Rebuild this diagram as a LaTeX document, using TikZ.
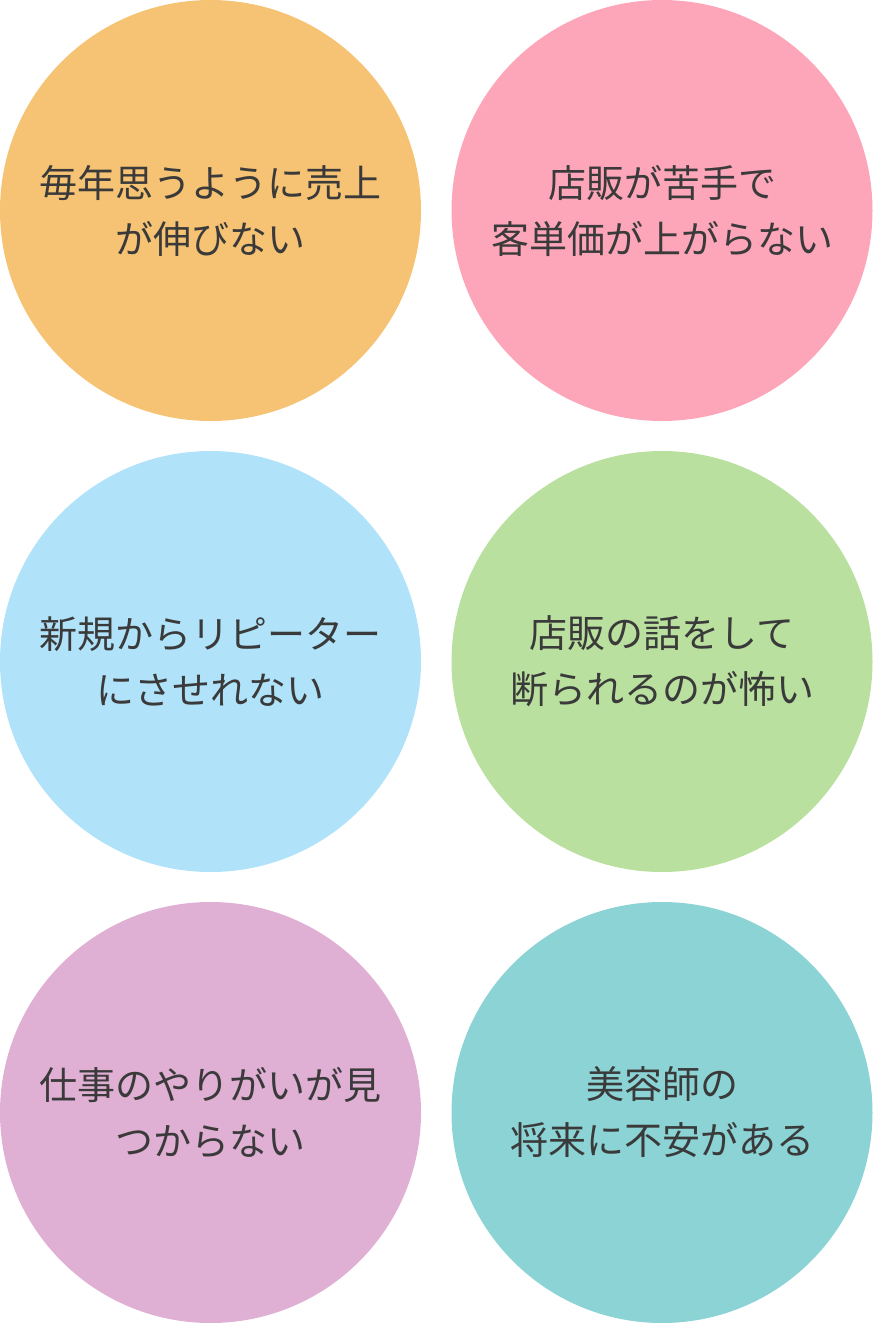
\documentclass[tikz,border=0pt]{standalone}
\usepackage{fontspec}
\newfontfamily\cjk{Noto Sans CJK JP}[FontFace={m}{n}{* Medium}]
\definecolor{cO}{HTML}{F5C373}
\definecolor{cP}{HTML}{FDA6BA}
\definecolor{cB}{HTML}{B0E2F9}
\definecolor{cG}{HTML}{B9E09E}
\definecolor{cV}{HTML}{E0AFD4}
\definecolor{cT}{HTML}{8CD3D5}
\definecolor{txt}{HTML}{3A3A3A}
\begin{document}
\begin{tikzpicture}[x=1pt,y=-1pt,
  bubble/.style={circle,minimum size=421pt,inner sep=0pt,draw=none,text=txt,align=center,font=\cjk\fontsize{38}{56}\selectfont}]
\useasboundingbox (0,0) rectangle (873,1323);
\node[bubble,fill=cO] (a) at (210.5,210.5) {毎年思うように売上\\が伸びない};
\node[bubble,fill=cP] (b) at (662,210.5) {店販が苦手で\\客単価が上がらない};
\node[bubble,fill=cB] (c) at (210.5,661.5) {新規からリピーター\\にさせれない};
\node[bubble,fill=cG] (d) at (662,661.5) {店販の話をして\\断られるのが怖い};
\node[bubble,fill=cV] (e) at (210.5,1112.5) {仕事のやりがいが見\\つからない};
\node[bubble,fill=cT] (f) at (662,1112.5) {美容師の\\将来に不安がある};
\end{tikzpicture}
\end{document}
